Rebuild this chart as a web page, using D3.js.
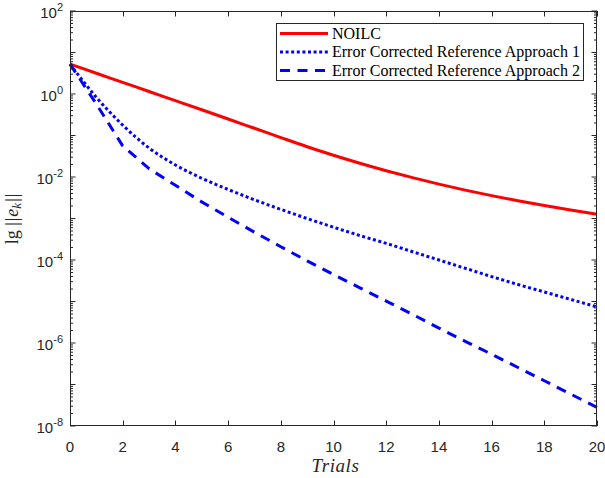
<!DOCTYPE html>
<html>
<head>
<meta charset="utf-8">
<script src="https://cdn.jsdelivr.net/npm/d3@7"></script>
<style>
html,body{margin:0;padding:0;background:#fff;}
svg{display:block;}
</style>
</head>
<body>
<svg id="chart" width="605" height="478"></svg>
<script>
// ---- data (log10 of error norm) ----
const trials = [0,1,2,3,4,5,6,7,8,9,10,11,12,13,14,15,16,17,18,19,20];
const noilcLog = [0.72,0.50,0.28,0.06,-0.16,-0.38,-0.602,-0.826,-1.05,-1.27,-1.475,-1.668,-1.848,-2.016,-2.172,-2.316,-2.449,-2.572,-2.686,-2.795,-2.90];
const approach1Log = [0.72,-0.08,-0.75,-1.30,-1.71,-2.03,-2.30,-2.55,-2.78,-3.00,-3.21,-3.41,-3.60,-3.80,-4.00,-4.20,-4.40,-4.59,-4.77,-4.95,-5.13];
const approach2Log = [0.72,-0.24,-1.25,-1.80,-2.20,-2.60,-2.97,-3.33,-3.68,-4.02,-4.35,-4.67,-4.99,-5.31,-5.64,-5.96,-6.27,-6.59,-6.91,-7.23,-7.55];
const seriesNames = ["NOILC","Error Corrected Reference Approach 1","Error Corrected Reference Approach 2"];
const xTicks = [0,2,4,6,8,10,12,14,16,18,20];
const yTickExps = [2,0,-2,-4,-6,-8];

const series = [
  {name: seriesNames[0], vals: noilcLog.map(v=>Math.pow(10,v)), color:"#ff0000", dash:null, smooth:true},
  {name: seriesNames[1], vals: approach1Log.map(v=>Math.pow(10,v)), color:"#0000ff", dash:"3,2.6", smooth:true},
  {name: seriesNames[2], vals: approach2Log.map(v=>Math.pow(10,v)), color:"#0000ff", dash:"10,7.5", smooth:false}
];

const L=70, R=597, T=11, B=426;
const axisColor="#262626";
const svg=d3.select("#chart");

const x=d3.scaleLinear().domain([0,20]).range([L,R]);
const y=d3.scaleLog().domain([1e-8,1e2]).range([B,T]);

svg.append("rect").attr("x",L).attr("y",T).attr("width",R-L).attr("height",B-T).attr("fill","#fff");

// lines
const g=svg.append("g");
series.forEach(s=>{
  const line=d3.line().x((d,i)=>x(trials[i])).y(d=>y(d))
    .curve(s.smooth?d3.curveMonotoneX:d3.curveLinear);
  g.append("path").attr("d",line(s.vals)).attr("fill","none")
   .attr("stroke",s.color).attr("stroke-width",3)
   .attr("stroke-dasharray",s.dash)
   .attr("stroke-linejoin","round");
});

// ticks
const tickG=svg.append("g").attr("stroke",axisColor).attr("stroke-width",1).attr("fill","none");
const majLen=5.5, minLen=3;
xTicks.forEach(t=>{
  const px=Math.round(x(t))+0.5;
  tickG.append("line").attr("x1",px).attr("x2",px).attr("y1",B).attr("y2",B-majLen);
  tickG.append("line").attr("x1",px).attr("x2",px).attr("y1",T).attr("y2",T+majLen);
});
for(let e=-8;e<=2;e++){
  const py=y(Math.pow(10,e));
  tickG.append("line").attr("x1",L).attr("x2",L+majLen).attr("y1",py).attr("y2",py);
  tickG.append("line").attr("x1",R).attr("x2",R-majLen).attr("y1",py).attr("y2",py);
  if(e<2){
    for(let m=2;m<=9;m++){
      const pm=y(m*Math.pow(10,e));
      tickG.append("line").attr("x1",L).attr("x2",L+minLen).attr("y1",pm).attr("y2",pm);
      tickG.append("line").attr("x1",R).attr("x2",R-minLen).attr("y1",pm).attr("y2",pm);
    }
  }
}
svg.append("rect").attr("x",L+0.5).attr("y",T+0.5).attr("width",R-L-1).attr("height",B-T-1)
  .attr("fill","none").attr("stroke",axisColor).attr("stroke-width",1);

// tick labels
const lab=svg.append("g").attr("fill",axisColor).attr("font-family","Liberation Sans, Arial, sans-serif");
xTicks.forEach(t=>{
  lab.append("text").attr("x",x(t)).attr("y",452).attr("text-anchor","middle")
    .attr("font-size",15).text(t);
});
yTickExps.forEach(e=>{
  const py=y(Math.pow(10,e));
  const tx=lab.append("text").attr("x",63).attr("y",py+7).attr("text-anchor","end").attr("font-size",15);
  tx.append("tspan").text("10");
  tx.append("tspan").attr("font-size",11).attr("dy",-7).text(String(e));
});

// axis titles
svg.append("text").attr("x",(L+R)/2+2).attr("y",472).attr("text-anchor","middle")
  .attr("font-family","Liberation Serif, Times New Roman, serif").attr("font-style","italic")
  .attr("font-size",19).attr("fill",axisColor).attr("letter-spacing",0.6).text("Trials");

const yl=svg.append("text").attr("transform",`translate(18,${(T+B)/2}) rotate(-90)`)
  .attr("text-anchor","middle").attr("font-family","Liberation Serif, Times New Roman, serif")
  .attr("font-size",18).attr("fill",axisColor);
yl.append("tspan").text("lg ");
yl.append("tspan").attr("letter-spacing",1).text("||");
yl.append("tspan").attr("font-style","italic").text("e");
yl.append("tspan").attr("font-style","italic").attr("font-size",13).attr("dy",3).text("k");
yl.append("tspan").attr("dy",-3).attr("dx",1).attr("letter-spacing",1).text("||");

// legend
const lg=svg.append("g");
lg.append("rect").attr("x",276.5).attr("y",23.5).attr("width",307).attr("height",57)
  .attr("fill","#fff").attr("stroke",axisColor).attr("stroke-width",1);
const rows=[33.5,52,70.5];
series.forEach((s,i)=>{
  lg.append("line").attr("x1",280).attr("x2",328).attr("y1",rows[i]).attr("y2",rows[i])
    .attr("stroke",s.color).attr("stroke-width",3).attr("stroke-dasharray",s.dash);
  lg.append("text").attr("x",332).attr("y",rows[i]+5).attr("font-family","Liberation Serif, Times New Roman, serif")
    .attr("font-size",16).attr("fill","#000").text(s.name);
});
</script>
</body>
</html>
